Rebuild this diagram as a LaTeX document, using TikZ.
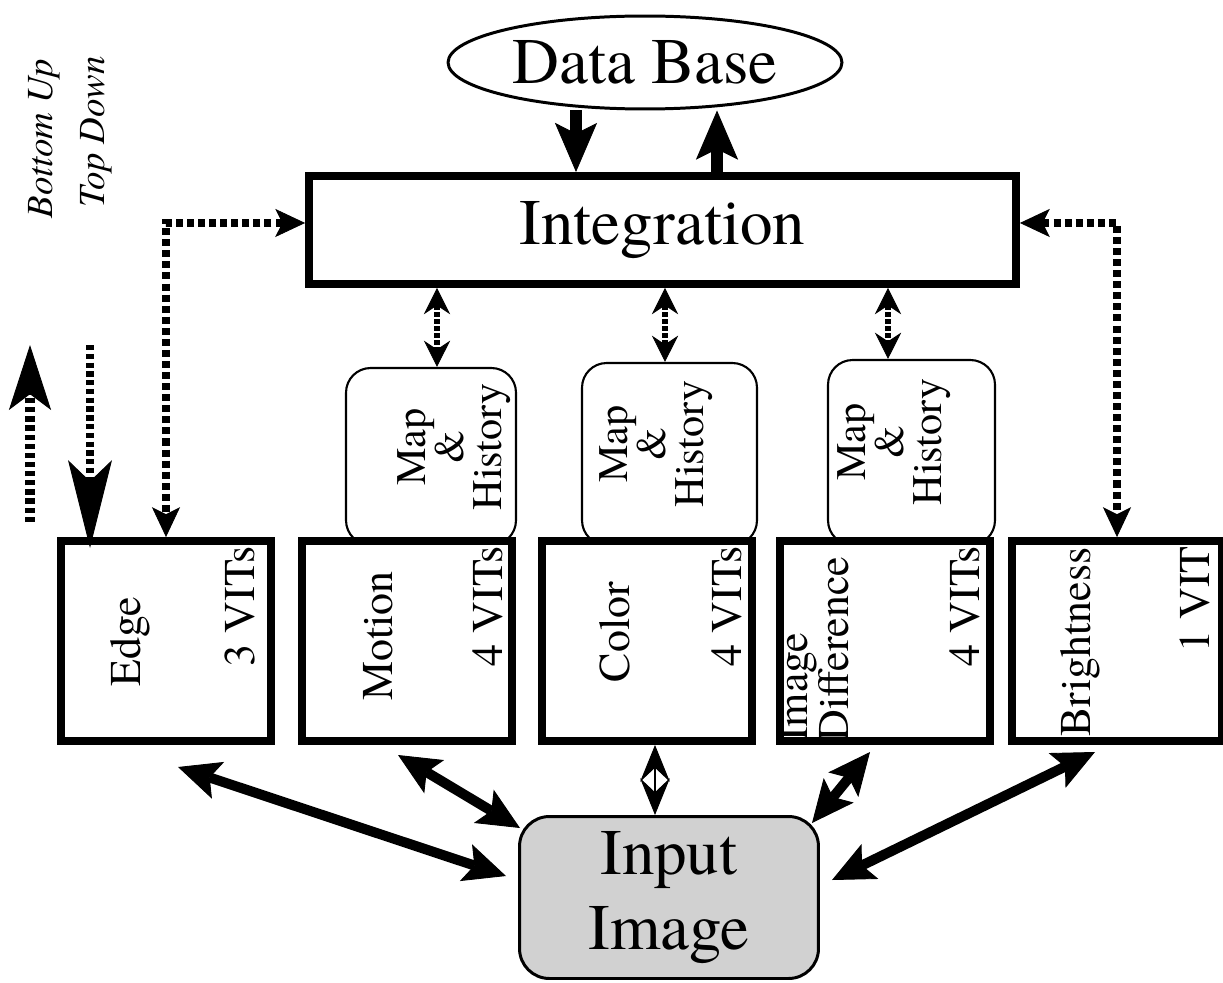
\documentclass[tikz,border=0pt]{standalone}
\usepackage{fontspec}
\IfFontExistsTF{texgyretermes-regular.otf}{%
  \setmainfont{texgyretermes-regular.otf}[ItalicFont=texgyretermes-italic.otf,
    BoldFont=texgyretermes-bold.otf, BoldItalicFont=texgyretermes-bolditalic.otf]}{%
  \IfFontExistsTF{LiberationSerif-Regular.ttf}{%
    \setmainfont{LiberationSerif-Regular.ttf}[ItalicFont=LiberationSerif-Italic.ttf,
      BoldFont=LiberationSerif-Bold.ttf]}{%
    \setmainfont{DejaVu Serif}}}
\usetikzlibrary{arrows.meta,shapes.geometric,calc}

\tikzset{
  fatHead/.tip={Stealth[length=24pt,width=22pt,inset=5pt,line width=0.5pt]},
  dotHead/.tip={Stealth[length=17pt,width=16pt,inset=4pt,line width=0.5pt]},
  dbHead/.tip={Stealth[length=28pt,width=24pt,inset=6pt,line width=0.5pt]},
  memHead/.tip={Stealth[length=15pt,width=15pt,inset=5pt,line width=0.5pt]},
  gemHead/.tip={Stealth[length=21pt,width=17pt,inset=8pt,line width=0.5pt]},
  heavybox/.style={draw, line width=4.5pt, fill=white, minimum width=4.2cm,
    minimum height=4cm, inner sep=0pt},
  memobox/.style={draw, line width=1.2pt, rounded corners=14pt, fill=white, inner sep=0pt},
  modlabel/.style={rotate=90, font=\fontsize{25}{27}\selectfont, inner sep=0pt},
  memolabel/.style={rotate=90, align=center, font=\fontsize{24}{21.5}\selectfont, inner sep=0pt},
  bigtext/.style={font=\fontsize{37}{43}\selectfont},
  legendtext/.style={rotate=90, font=\fontsize{21}{23}\selectfont\itshape, inner sep=0pt},
  dotline/.style={line width=4.5pt, dash pattern=on 4pt off 2.3pt, arrows={dotHead-dotHead}},
  fatarrow/.style={line width=5.7pt, arrows={fatHead-fatHead}},
  dbarrow/.style={line width=7pt, arrows={-dbHead}},
  memarrow/.style={line width=3.5pt, dash pattern=on 2.5pt off 1.5pt, arrows={memHead-memHead}},
  gemarrow/.style={line width=1.2pt, arrows={gemHead-gemHead}},
}

\begin{document}
\begin{tikzpicture}[x=0.02cm,y=-0.02cm]
\useasboundingbox (0,0) rectangle (1223,983);

% knowledge store and integration stage
\node[ellipse, draw, line width=1.7pt, minimum width=7.88cm, minimum height=1.86cm,
  inner sep=0pt, bigtext] (db) at (645,62.5) {Data Base};
\node[draw, line width=4.5pt, minimum width=14.14cm, minimum height=2.16cm,
  inner sep=0pt, bigtext] (integ) at (662.5,230) {Integration};

\coordinate (downX) at (576,0);
\coordinate (upX) at (717,0);
\draw[dbarrow] (db.south -| downX) -- (integ.north -| downX);
\draw[dbarrow] (integ.north -| upX) -- (db.south -| upX);

% map & history memories
\node[memobox, minimum width=3.4cm, minimum height=3.54cm] (memA) at (431,456.5) {};
\node[memobox, minimum width=3.5cm, minimum height=3.64cm] (memB) at (669.5,454) {};
\node[memobox, minimum width=3.34cm, minimum height=3.7cm] (memC) at (911.5,452.5) {};
\node[memolabel] (memAT) at (454,447) {Map\\\&\\History};
\node[memolabel] (memBT) at (656,444) {Map\\\&\\History};
\node[memolabel] (memCT) at (894,442) {Map\\\&\\History};

% feature modules
\node[heavybox] (edge) at (166,641) {};
\node[heavybox] (motion) at (407,641) {};
\node[heavybox] (colr) at (647,641) {};
\node[heavybox] (diff) at (885,641) {};
\node[heavybox] (bright) at (1117,641) {};

\node[modlabel] (edgeT) at (130,642) {Edge};
\node[modlabel, anchor=east] (edgeN) at (240,546) {3 VITs};
\node[modlabel] (motionT) at (378,636) {Motion};
\node[modlabel, anchor=east] (motionN) at (488,546) {4 VITs};
\node[modlabel] (colrT) at (615,632) {Color};
\node[modlabel, anchor=east] (colrN) at (727,546) {4 VITs};
\node[modlabel, align=left, anchor=west, font=\fontsize{25}{21}\selectfont] (diffT) at (814,742) {Image\\Difference};
\node[modlabel, anchor=east] (diffN) at (965,546) {4 VITs};
\node[modlabel] (brightT) at (1080,642) {Brightness};
\node[modlabel, anchor=east] (brightN) at (1195,546) {1 VIT};

% input image
\node[draw, line width=1.7pt, rounded corners=17pt, fill=black!18, minimum width=5.98cm,
  minimum height=3.24cm, align=center, bigtext, inner sep=0pt] (input) at (669,897.5) {Input\\Image};

% integration <-> memories
\coordinate (mAx) at (437,0);
\coordinate (mBx) at (665,0);
\coordinate (mCx) at (888,0);
\draw[memarrow] (integ.south -| mAx) -- (memA.north -| mAx);
\draw[memarrow] (integ.south -| mBx) -- (memB.north -| mBx);
\draw[memarrow] (integ.south -| mCx) -- (memC.north -| mCx);

% integration <-> edge / brightness (no memory)
\draw[dotline] ([yshift=4pt]integ.west) -| (edge.north);
\draw[dotline] ([yshift=4pt]integ.east) -| (bright.north);

% modules <-> input image
\coordinate (e1) at (178,767);   \coordinate (e2) at (506,876);
\coordinate (m1) at (398,755);   \coordinate (m2) at (520,828);
\coordinate (d1) at (870,752);   \coordinate (d2) at (812,823);
\coordinate (b1) at (1095,752);  \coordinate (b2) at (832,880);
\coordinate (cX) at (655,0);
\draw[fatarrow] (e1) -- (e2);
\draw[fatarrow] (m1) -- (m2);
\draw[fatarrow] (d1) -- (d2);
\draw[fatarrow] (b1) -- (b2);
\draw[gemarrow] (colr.south -| cX) -- (input.north -| cX);

% legend
\coordinate (buTail) at (30,522);  \coordinate (buHead) at (30,345);
\coordinate (tdTail) at (90,345);  \coordinate (tdHead) at (90,548);
\draw[line width=6pt, dash pattern=on 3pt off 2.2pt,
  -{Stealth[length=37pt,width=24pt,inset=9pt,line width=0.5pt]}] (buTail) -- (buHead);
\draw[line width=4.5pt, dash pattern=on 3pt off 2pt,
  -{Stealth[length=50pt,width=25pt,inset=12pt,line width=0.5pt]}] (tdTail) -- (tdHead);
\node[legendtext] (bu) at (44,139) {Bottom Up};
\node[legendtext] (td) at (96,132) {Top Down};
\end{tikzpicture}
\end{document}
